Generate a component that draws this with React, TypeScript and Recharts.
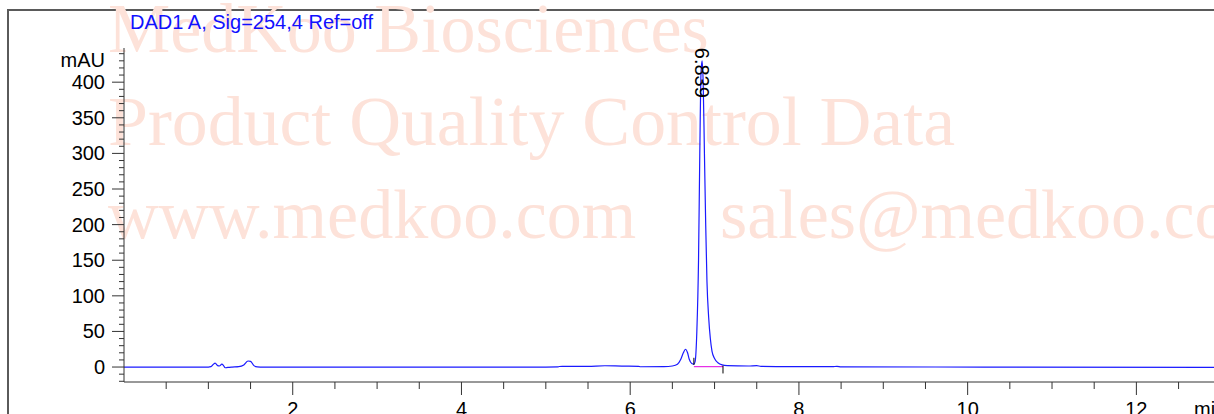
import React from "react";
import {
  ComposedChart,
  Line,
  XAxis,
  YAxis,
  ReferenceLine,
  ReferenceDot,
} from "recharts";

// retention time (min)
const times = [
  0.0, 0.5, 1.0, 1.03, 1.06, 1.08, 1.11, 1.13, 1.16, 1.18, 1.2, 1.23, 1.28,
  1.36, 1.42, 1.47, 1.5, 1.54, 1.58, 1.65, 2.0, 3.0, 4.0, 5.0, 5.14, 5.16, 5.5,
  5.7, 5.9, 6.1, 6.12, 6.4, 6.5, 6.56, 6.6, 6.63, 6.655, 6.68, 6.7, 6.73, 6.755,
  6.77, 6.79, 6.81, 6.825, 6.84, 6.852, 6.865, 6.88, 6.895, 6.91, 6.93, 6.95,
  6.97, 7.0, 7.04, 7.09, 7.15, 7.4, 7.5, 7.55, 7.9, 8.4, 8.45, 8.5, 10.2, 12.92,
];
// absorbance (mAU)
const signal = [
  0, 0, 0, 0.5, 4, 5.5, 2, 1.5, 4, 2, -1, -0.5, 0, 0.5, 3, 8.5, 8, 2, 0.3, 0,
  0, 0, 0, 0, 0.2, 0.8, 1, 1.8, 1.3, 1, 0.4, 0.5, 1.5, 4, 11, 20, 25, 20, 11, 5,
  4, 8, 50, 150, 300, 415, 430, 400, 300, 200, 120, 70, 40, 22, 12, 6, 3, 2,
  1.5, 2, 1, 0.5, 0.5, 1, 0.3, 0, -0.5,
];

const xTicks = [
  0.5, 1, 1.5, 2, 2.5, 3, 3.5, 4, 4.5, 5, 5.5, 6, 6.5, 7, 7.5, 8, 8.5, 9, 9.5,
  10, 10.5, 11, 11.5, 12, 12.5,
];
const xLabels = [2, 4, 6, 8, 10, 12];
const yTicks = [
  -20, -10, 0, 10, 20, 30, 40, 50, 60, 70, 80, 90, 100, 110, 120, 130, 140, 150,
  160, 170, 180, 190, 200, 210, 220, 230, 240, 250, 260, 270, 280, 290, 300,
  310, 320, 330, 340, 350, 360, 370, 380, 390, 400, 410, 420, 430, 440,
];
const yLabels = [0, 50, 100, 150, 200, 250, 300, 350, 400];

const peakLabel = { t: 6.852, v: 430, text: "6.839" };
const peakStart = 6.755;
const peakEnd = 7.1;

const data = times.map((t, i) => ({ t, v: signal[i] }));

const SANS = "'Liberation Sans', Arial, sans-serif";
const SERIF = "'Liberation Serif', 'Times New Roman', serif";
const AXIS = "#333";

const YTick = (props: any) => {
  const { x, y, payload } = props;
  const v = payload.value;
  const major = yLabels.includes(v);
  return (
    <g>
      <line x1={x - (major ? 12 : 5)} x2={x} y1={y} y2={y} stroke={AXIS} strokeWidth={1} />
      {major && (
        <text x={x - 19} y={y + 7} textAnchor="end" fontSize={20} fontFamily={SANS} fill="#000">
          {v}
        </text>
      )}
    </g>
  );
};

const XTick = (props: any) => {
  const { x, y, payload } = props;
  const v = payload.value;
  const major = xLabels.includes(v);
  return (
    <g>
      <line x1={x} x2={x} y1={y} y2={y + (major ? 13 : 7)} stroke={AXIS} strokeWidth={1} />
      {major && (
        <text x={x} y={y + 34} textAnchor="middle" fontSize={20} fontFamily={SANS} fill="#000">
          {v}
        </text>
      )}
    </g>
  );
};

const PeakText = (props: any) => {
  const { cx, cy } = props;
  const top = cy - 13;
  return (
    <text
      x={cx}
      y={top}
      dy="0.35em"
      transform={`rotate(90, ${cx}, ${top})`}
      fontSize={20}
      fontFamily={SANS}
      fill="#000"
    >
      {peakLabel.text}
    </text>
  );
};

export default function App() {
  const wm = { fontFamily: SERIF, fontSize: 70, fill: "#fde2d9" };
  return (
    <div
      style={{
        position: "fixed",
        left: 0,
        top: 0,
        width: 1214,
        height: 414,
        overflow: "hidden",
        background: "#fff",
      }}
    >
      <svg width={1214} height={414} style={{ position: "absolute", left: 0, top: 0 }}>
        <path d="M 8 414 L 8 10 L 1214 10" fill="none" stroke="#5a5a5a" strokeWidth={2} />
        <text x={108} y={52} {...wm}>MedKoo Biosciences</text>
        <text x={108} y={145} {...wm} textLength={847} lengthAdjust="spacingAndGlyphs">
          Product Quality Control Data
        </text>
        <text x={108} y={238} {...wm}>www.medkoo.com</text>
        <text x={720} y={238} {...wm}>sales@medkoo.com</text>
        <text x={130} y={29} fontSize={20} fontFamily={SANS} fill="#1010ff">
          DAD1 A, Sig=254,4 Ref=off
        </text>
        <text x={105} y={67} textAnchor="end" fontSize={20} fontFamily={SANS} fill="#000">
          mAU
        </text>
        <text x={1194} y={416} fontSize={20} fontFamily={SANS} fill="#000">
          min
        </text>
      </svg>
      <div style={{ position: "absolute", left: 0, top: 0 }}>
        <ComposedChart
          width={1214}
          height={414}
          data={data}
          margin={{ top: 48, right: 0, bottom: 0, left: 0 }}
        >
          <XAxis
            dataKey="t"
            type="number"
            domain={[0, 12.92]}
            ticks={xTicks}
            interval={0}
            height={32}
            tickSize={0}
            tickMargin={0}
            tickLine={false}
            axisLine={{ stroke: AXIS, strokeWidth: 1 }}
            tick={<XTick />}
            allowDataOverflow
          />
          <YAxis
            type="number"
            domain={[-21, 448]}
            ticks={yTicks}
            interval={0}
            width={124}
            tickSize={0}
            tickMargin={0}
            tickLine={false}
            axisLine={{ stroke: AXIS, strokeWidth: 1 }}
            tick={<YTick />}
            allowDataOverflow
          />
          <Line
            type="monotone"
            dataKey="v"
            stroke="#1a1aff"
            strokeWidth={1.2}
            dot={false}
            isAnimationActive={false}
          />
          <ReferenceLine
            segment={[
              { x: peakStart, y: 0.5 },
              { x: peakEnd, y: 0.5 },
            ]}
            stroke="#e000e0"
            strokeWidth={1}
          />
          <ReferenceLine
            segment={[
              { x: peakStart, y: 13 },
              { x: peakStart, y: 3 },
            ]}
            stroke="#000"
            strokeWidth={1}
          />
          <ReferenceLine
            segment={[
              { x: peakEnd, y: 2 },
              { x: peakEnd, y: -9 },
            ]}
            stroke="#000"
            strokeWidth={1}
          />
          <ReferenceDot
            x={peakLabel.t}
            y={peakLabel.v}
            r={0}
            shape={<PeakText />}
          />
        </ComposedChart>
      </div>
    </div>
  );
}
